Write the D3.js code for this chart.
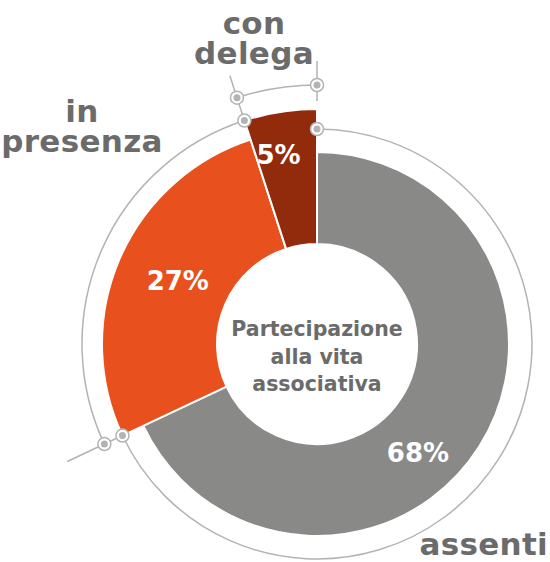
<!DOCTYPE html>
<html>
<head>
<meta charset="utf-8">
<script src="https://cdn.jsdelivr.net/npm/d3@7"></script>
<style>
html,body{margin:0;padding:0;background:#fff;}
svg{display:block;}
text{font-family:"DejaVu Sans",sans-serif;font-weight:bold;}
</style>
</head>
<body>
<svg id="chart" width="550" height="562"></svg>
<script>
// ---- data ----
const categories = ["assenti", "in presenza", "con delega"];
const values = [68, 27, 5];
const percentLabels = ["68%", "27%", "5%"];
const centerTitle = ["Partecipazione", "alla vita", "associativa"];
const categoryLabelLines = [["assenti"], ["in", "presenza"], ["con", "delega"]];

// ---- styles ----
const colors = ["#898987", "#E8501E", "#922A0C"];
const outerR = [192, 215, 235];
const guideR = [215, 235, 259];
const innerR = 100;
const cx = 317, cy = 344;
const guideColor = "#b3b3b3";
const textGray = "#6b6b6b";

const svg = d3.select("#chart");
const g = svg.append("g").attr("transform", `translate(${cx},${cy})`);

const pie = d3.pie().sort(null).value(d => d.value).startAngle(0).endAngle(2 * Math.PI);
const arcsData = pie(categories.map((c, i) => ({ cat: c, value: values[i], i })));

// slices
g.selectAll("path.slice").data(arcsData).join("path")
  .attr("class", "slice")
  .attr("d", d => d3.arc().innerRadius(innerR).outerRadius(outerR[d.data.i])(d))
  .attr("fill", d => colors[d.data.i])
  .attr("stroke", "#fff").attr("stroke-width", 2).attr("stroke-linejoin", "miter");

// guide arcs
function arcPath(r, a0, a1) {
  const p = d3.path();
  p.arc(0, 0, r, a0 - Math.PI / 2, a1 - Math.PI / 2, false);
  return p.toString();
}
g.selectAll("path.guide").data(arcsData).join("path")
  .attr("class", "guide")
  .attr("d", d => arcPath(guideR[d.data.i], d.startAngle, d.endAngle))
  .attr("fill", "none").attr("stroke", guideColor).attr("stroke-width", 1.5);

function pt(r, a) { return [r * Math.sin(a), -r * Math.cos(a)]; }

// radial ticks at boundaries
const ticks = [
  { a: arcsData[0].endAngle, r0: 215, r1: 276 },
  { a: arcsData[1].endAngle, r0: 235, r1: 282 },
  { a: arcsData[2].endAngle, r0: 243, r1: 283 }
];
g.selectAll("line.tick").data(ticks).join("line")
  .attr("class", "tick")
  .attr("x1", d => pt(d.r0, d.a)[0]).attr("y1", d => pt(d.r0, d.a)[1])
  .attr("x2", d => pt(d.r1, d.a)[0]).attr("y2", d => pt(d.r1, d.a)[1])
  .attr("stroke", guideColor).attr("stroke-width", 1.5);

// markers at guide arc ends
const markers = [];
arcsData.forEach(d => {
  markers.push({ r: guideR[d.data.i], a: d.startAngle });
  markers.push({ r: guideR[d.data.i], a: d.endAngle });
});
const mk = g.selectAll("g.marker").data(markers).join("g")
  .attr("class", "marker")
  .attr("transform", d => `translate(${pt(d.r, d.a)})`);
mk.append("circle").attr("r", 6.5).attr("fill", "#fff").attr("stroke", guideColor).attr("stroke-width", 1.5);
mk.append("circle").attr("r", 3.5).attr("fill", guideColor);

// percent labels
const labelPlace = [{ r: 148, a: 137 }, { r: 153, a: 294.5 }, { r: 193, a: 348.5 }];
g.selectAll("text.pct").data(arcsData).join("text")
  .attr("class", "pct")
  .attr("x", d => pt(labelPlace[d.data.i].r, labelPlace[d.data.i].a * Math.PI / 180)[0])
  .attr("y", d => pt(labelPlace[d.data.i].r, labelPlace[d.data.i].a * Math.PI / 180)[1])
  .attr("dy", "0.36em")
  .attr("text-anchor", "middle")
  .attr("fill", "#fff")
  .attr("font-size", 26)
  .text(d => percentLabels[d.data.i]);

// center title
g.append("text").attr("text-anchor", "middle").attr("fill", textGray).attr("font-size", 20.5)
  .selectAll("tspan").data(centerTitle).join("tspan")
  .attr("x", 0).attr("y", (d, i) => -8 + i * 27.5).text(d => d);

// category labels
const catPlace = [
  { x: 548, y: 555, anchor: "end" },
  { x: 82, y: 122, anchor: "middle" },
  { x: 254, y: 34, anchor: "middle" }
];
categoryLabelLines.forEach((lines, i) => {
  svg.append("text")
    .attr("text-anchor", catPlace[i].anchor)
    .attr("fill", textGray).attr("font-size", 31)
    .attr("letter-spacing", 0.3)
    .selectAll("tspan").data(lines).join("tspan")
    .attr("x", catPlace[i].x)
    .attr("y", (d, j) => catPlace[i].y + j * 30)
    .text(d => d);
});
</script>
</body>
</html>
